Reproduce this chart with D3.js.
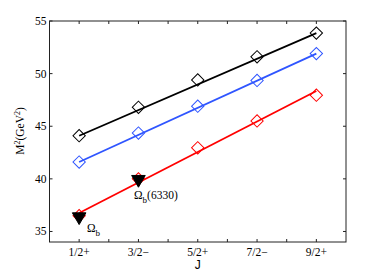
<!DOCTYPE html>
<html><head><meta charset="utf-8">
<script src="https://cdn.jsdelivr.net/npm/d3@7"></script>
<style>body{margin:0;background:#fff}svg{display:block}</style>
</head><body><svg id="c" width="382" height="273"></svg>
<script>
const categories = ["1/2+","3/2\u2212","5/2+","7/2\u2212","9/2+"];
const jIndex = [1,2,3,4,5];
const blackPoints = [44.1, 46.8, 49.4, 51.6, 53.85];
const bluePoints  = [41.6, 44.35, 46.9, 49.35, 51.9];
const redPoints   = [36.5, 40.0, 42.95, 45.5, 47.95];
const blackFit = [44.1, 53.85];
const blueFit  = [41.6, 51.9];
const redFit   = [36.75, 48.35];
const fitJ = [1, 5];
const expJ = [1, 2];
const expMass = [36.4, 39.95];
const expLabels = ["b", "b"];
const expSuffix = ["", "(6330)"];
const yTicks = [35, 40, 45, 50, 55];

const svg = d3.select("#c");
const L = 49.5, R = 346, T = 21, B = 242;
const x = d3.scaleLinear().domain([0.5, 5.5]).range([L, R]);
const y = d3.scaleLinear().domain([34, 55]).range([B, T]);
const serif = "'Liberation Serif','DejaVu Serif',serif";

svg.append("rect").attr("x", L).attr("y", T).attr("width", R - L).attr("height", B - T)
  .attr("fill", "none").attr("stroke", "#222").attr("stroke-width", 1);

const xt = d3.range(1, 5.5, 0.5);
xt.forEach(t => {
  svg.append("line").attr("x1", x(t)).attr("x2", x(t)).attr("y1", B).attr("y2", B - 3).attr("stroke", "#222");
  svg.append("line").attr("x1", x(t)).attr("x2", x(t)).attr("y1", T).attr("y2", T + 3).attr("stroke", "#222");
});
yTicks.forEach(t => {
  svg.append("line").attr("x1", L).attr("x2", L + 3).attr("y1", y(t)).attr("y2", y(t)).attr("stroke", "#222");
  svg.append("line").attr("x1", R).attr("x2", R - 3).attr("y1", y(t)).attr("y2", y(t)).attr("stroke", "#222");
  svg.append("text").attr("x", L - 3).attr("y", y(t) + 4).attr("text-anchor", "end")
    .attr("font-family", serif).attr("font-size", 11.5).text(t);
});
categories.forEach((c, i) => {
  svg.append("text").attr("x", x(jIndex[i])).attr("y", 256).attr("text-anchor", "middle")
    .attr("font-family", serif).attr("font-size", 11.5).text(c);
});
svg.append("text").attr("x", x(3)).attr("y", 269).attr("text-anchor", "middle")
  .attr("font-family", "'Liberation Sans',Arial,sans-serif").attr("font-size", 12).text("J");

const yl = svg.append("text").attr("transform", "translate(24,131) rotate(-90)").attr("text-anchor", "middle")
  .attr("font-family", serif).attr("font-size", 11.5);
yl.append("tspan").text("M");
yl.append("tspan").attr("dy", -4).attr("font-size", 8).text("2");
yl.append("tspan").attr("dy", 4).text("(GeV");
yl.append("tspan").attr("dy", -4).attr("font-size", 8).text("2");
yl.append("tspan").attr("dy", 4).text(")");

const series = [
  {pts: blackPoints, fit: blackFit, color: "#000000"},
  {pts: bluePoints, fit: blueFit, color: "#2f55ff"},
  {pts: redPoints, fit: redFit, color: "#ff0000"}
];
const diamond = d3.symbol().type(d3.symbolSquare).size(76);
series.forEach(s => {
  s.pts.forEach((v, i) => {
    svg.append("path").attr("d", diamond())
      .attr("transform", `translate(${x(jIndex[i])},${y(v)}) rotate(45)`)
      .attr("fill", "none").attr("stroke", s.color).attr("stroke-width", 1);
  });
});
series.forEach(s => {
  svg.append("line").attr("x1", x(fitJ[0])).attr("y1", y(s.fit[0]))
    .attr("x2", x(fitJ[1])).attr("y2", y(s.fit[1]))
    .attr("stroke", s.color).attr("stroke-width", 1.8);
});

const tri = d3.symbol().type(d3.symbolTriangle).size(80);
expJ.forEach((j, i) => {
  svg.append("path").attr("d", tri())
    .attr("transform", `translate(${x(j)},${y(expMass[i])}) rotate(180)`)
    .attr("fill", "#000").attr("stroke", "#000").attr("stroke-width", 1);
});
const labPos = [[87, 232], [134, 199]];
expJ.forEach((j, i) => {
  const t = svg.append("text").attr("x", labPos[i][0]).attr("y", labPos[i][1])
    .attr("font-family", serif).attr("font-size", 11.5);
  t.append("tspan").text("\u03A9");
  t.append("tspan").attr("dy", 4).attr("font-size", 9).text(expLabels[i]);
  if (expSuffix[i]) t.append("tspan").attr("dy", -4).text(expSuffix[i]);
});
</script></body></html>
